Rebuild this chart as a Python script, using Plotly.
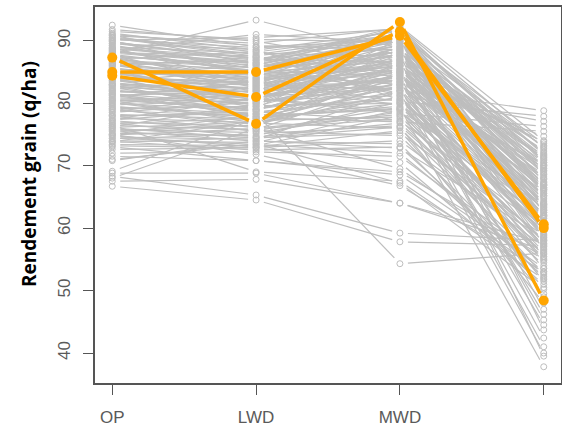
import math
import plotly.graph_objects as go

categories = ["OP", "LWD", "MWD", "HWD"]
y_ticks = [40, 50, 60, 70, 80, 90]
y_title = "Rendement grain (q/ha)"

# grey genotypes (one value per environment)
op = [91.2, 90.8, 90.5, 90.2, 89.9, 89.6, 89.3, 89.0, 88.7, 88.4,
      88.1, 87.8, 87.5, 87.2, 86.9, 86.6, 86.3, 86.0, 85.7, 85.4,
      85.1, 84.8, 84.5, 84.2, 83.9, 83.6, 83.3, 83.0, 82.7, 82.4,
      82.1, 81.8, 81.5, 81.2, 80.9, 80.6, 80.3, 80.0, 79.7, 79.4,
      79.1, 78.8, 78.5, 78.2, 77.9, 77.6, 77.3, 77.0, 76.7, 76.4,
      76.1, 75.8, 75.5, 75.2, 74.9, 74.6, 74.3, 74.0, 73.7, 73.4,
      90.9, 90.0, 89.5, 88.9, 88.2, 87.7, 87.0, 86.4, 85.9, 85.2,
      84.6, 84.0, 83.5, 82.9, 82.2, 81.6, 81.0, 80.4, 79.8, 79.2,
      78.6, 78.0, 77.4, 76.8, 76.2, 75.6, 75.0, 74.4, 73.8, 73.2,
      91.5, 91.0, 90.6, 89.8, 89.2, 88.6, 88.0, 87.4, 86.8, 86.1,
      85.5, 84.9, 84.3, 83.7, 83.1, 82.5, 81.9, 81.3, 80.7, 80.1,
      72.6, 72.0, 71.5, 70.8, 69.1, 68.8, 68.3, 67.5, 66.7, 68.0,
      76.5, 73.0, 75.0, 78.0, 71.0, 85.0, 83.0, 87.6, 80.5, 82.0,
      79.0, 86.2, 77.2, 81.4, 84.4, 76.0, 88.8, 86.5, 84.1, 88.3,
      82.8, 79.5, 90.4, 92.5, 87.9, 88.5, 91.8, 90.1, 74.8, 73.9]

lwd = [88.5, 89.6, 87.8, 88.9, 86.5, 87.2, 85.8, 88.0, 86.9, 84.9,
       87.6, 85.2, 86.1, 84.0, 85.7, 83.5, 86.8, 84.4, 82.8, 85.0,
       83.9, 82.2, 84.8, 81.6, 83.3, 82.9, 80.9, 82.5, 81.2, 83.7,
       80.4, 81.9, 79.8, 82.0, 80.0, 79.2, 81.4, 78.8, 80.6, 78.3,
       79.5, 77.9, 80.2, 77.4, 78.6, 76.9, 79.0, 76.3, 77.6, 75.8,
       77.0, 75.3, 76.5, 74.8, 75.9, 74.2, 75.1, 73.7, 74.5, 73.2,
       86.2, 84.6, 88.6, 83.0, 86.6, 82.4, 88.3, 81.8, 87.4, 80.8,
       86.0, 79.6, 85.4, 78.6, 84.2, 77.8, 83.6, 76.8, 82.6, 76.0,
       81.5, 75.5, 80.8, 74.6, 79.9, 73.9, 78.2, 73.4, 77.2, 72.8,
       90.2, 89.2, 88.2, 87.0, 85.5, 84.7, 86.4, 83.2, 85.1, 82.7,
       84.1, 81.0, 83.1, 80.5, 82.3, 79.4, 81.1, 78.0, 80.1, 77.2,
       72.9, 72.2, 70.8, 74.0, 77.5, 68.8, 65.3, 67.8, 64.5, 76.0,
       69.0, 70.8, 71.8, 78.3, 73.5, 83.8, 81.3, 85.6, 79.0, 80.3,
       76.6, 84.5, 75.6, 78.9, 82.1, 74.4, 87.3, 85.3, 83.4, 86.3,
       80.7, 77.7, 87.5, 89.0, 93.3, 91.0, 89.9, 90.5, 73.0, 72.5]

mwd = [91.5, 92.0, 90.8, 89.5, 91.0, 88.7, 90.2, 87.5, 91.8, 86.8,
       89.9, 88.2, 90.5, 85.9, 89.2, 87.9, 91.2, 86.4, 88.9, 90.0,
       84.8, 87.0, 89.6, 85.5, 88.4, 91.4, 84.2, 86.9, 89.0, 85.1,
       87.7, 83.8, 88.1, 86.2, 84.5, 90.3, 82.9, 86.0, 88.6, 83.2,
       85.6, 81.9, 87.3, 84.0, 80.8, 86.5, 82.4, 85.0, 79.5, 83.5,
       81.0, 78.6, 84.7, 80.2, 77.5, 82.0, 76.4, 79.0, 75.2, 78.0,
       85.0, 83.0, 80.5, 82.2, 92.3, 79.8, 84.0, 91.6, 81.5, 78.8,
       92.1, 80.0, 87.5, 77.2, 90.7, 79.2, 89.4, 76.0, 88.0, 78.2,
       87.0, 74.8, 86.0, 76.8, 85.2, 73.5, 83.9, 72.0, 82.8, 70.5,
       89.8, 88.5, 91.0, 86.6, 90.9, 85.8, 89.1, 84.6, 88.3, 83.4,
       87.2, 82.6, 86.3, 81.2, 85.4, 80.6, 84.4, 79.0, 83.0, 77.8,
       74.0, 71.5, 68.5, 72.8, 80.0, 64.0, 59.2, 64.0, 57.8, 69.5,
       67.5, 69.0, 66.8, 54.3, 67.2, 88.8, 86.7, 90.4, 84.3, 82.5,
       81.7, 87.8, 79.3, 85.3, 83.6, 76.2, 84.9, 82.0, 80.3, 81.3,
       78.4, 77.0, 83.3, 90.1, 87.6, 89.7, 86.1, 91.9, 75.6, 73.0]

hwd = [72.0, 70.5, 73.5, 68.0, 66.5, 71.2, 64.0, 69.5, 62.5, 67.3,
       73.0, 65.2, 70.0, 61.8, 68.8, 63.5, 71.8, 66.0, 59.5, 69.0,
       64.8, 72.5, 62.0, 67.8, 58.5, 70.8, 63.0, 66.8, 60.5, 68.5,
       57.5, 65.5, 71.0, 61.0, 64.2, 56.5, 67.0, 62.8, 69.8, 59.0,
       66.2, 55.5, 63.8, 68.2, 60.0, 65.0, 54.5, 62.2, 58.0, 66.5,
       53.5, 61.5, 57.0, 63.2, 52.5, 60.8, 56.0, 51.5, 58.8, 55.0,
       73.8, 65.8, 61.2, 70.2, 74.0, 57.8, 69.2, 67.5, 60.2, 63.8,
       72.8, 56.2, 73.2, 59.8, 66.2, 62.5, 71.5, 54.0, 64.5, 58.2,
       70.5, 52.0, 67.2, 55.8, 65.2, 50.5, 61.8, 53.0, 59.2, 51.0,
       67.0, 62.8, 69.3, 71.6, 65.6, 60.8, 72.2, 64.0, 68.0, 58.6,
       70.0, 61.6, 66.8, 56.8, 63.3, 59.4, 69.6, 55.2, 62.0, 57.4,
       57.0, 54.8, 52.8, 58.4, 60.0, 57.6, 58.0, 56.5, 57.2, 53.6,
       51.8, 55.4, 53.0, 56.0, 50.2, 47.0, 45.3, 43.7, 42.4, 41.0,
       40.0, 39.5, 37.8, 46.2, 44.5, 48.0, 49.0, 78.8, 77.9, 77.1,
       76.3, 75.5, 74.7, 68.6, 66.3, 63.6, 71.3, 60.4, 49.5, 52.2]

# highlighted genotypes (orange)
hl_op = [87.3, 85.0, 84.4]
hl_lwd = [76.7, 85.0, 81.0]
hl_mwd = [93.0, 90.8, 91.5]
hl_hwd = [48.4, 60.6, 60.0]

W, H = 562, 427
ML, MR, MT, MB = 95, 1, 7, 44
XR = [-0.12, 3.12]
YR = [35.2, 95.4]
XS = (W - ML - MR) / (XR[1] - XR[0])
YS = (H - MT - MB) / (YR[1] - YR[0])


def gapped(series, gap):
    xs, ys = [], []
    n = len(series[0])
    for k in range(n):
        vals = [s[k] for s in series]
        for i in range(len(vals) - 1):
            x0, x1 = i, i + 1
            y0, y1 = vals[i], vals[i + 1]
            L = math.hypot((x1 - x0) * XS, (y1 - y0) * YS)
            if L <= 2 * gap:
                continue
            f = gap / L
            xs += [x0 + f * (x1 - x0), x1 - f * (x1 - x0), None]
            ys += [y0 + f * (y1 - y0), y1 - f * (y1 - y0), None]
    return xs, ys


def points(series):
    xs, ys = [], []
    for i, s in enumerate(series):
        xs += [i] * len(s)
        ys += list(s)
    return xs, ys


grey = "#BEBEBE"
orange = "#FFA500"

fig = go.Figure()
gx, gy = gapped([op, lwd, mwd, hwd], 8)
fig.add_trace(go.Scatter(x=gx, y=gy, mode="lines",
                         line=dict(color=grey, width=1.2), hoverinfo="skip"))
px_, py_ = points([op, lwd, mwd, hwd])
fig.add_trace(go.Scatter(x=px_, y=py_, mode="markers",
                         marker=dict(symbol="circle-open", size=6, color=grey,
                                     line=dict(width=1))))
ox, oy = gapped([hl_op, hl_lwd, hl_mwd, hl_hwd], 8)
fig.add_trace(go.Scatter(x=ox, y=oy, mode="lines",
                         line=dict(color=orange, width=3.5), hoverinfo="skip"))
qx, qy = points([hl_op, hl_lwd, hl_mwd, hl_hwd])
fig.add_trace(go.Scatter(x=qx, y=qy, mode="markers",
                         marker=dict(symbol="circle", size=10, color=orange)))

tickfont = dict(family="Liberation Sans, Arial, sans-serif", size=17, color="#5a5a5a")
fig.update_layout(
    width=W, height=H,
    margin=dict(l=ML, r=MR, t=MT, b=MB, pad=0, autoexpand=False),
    paper_bgcolor="white", plot_bgcolor="white",
    showlegend=False,
    xaxis=dict(range=XR, tickvals=[0, 1, 2, 3], ticktext=categories,
               ticks="outside", ticklen=10, tickcolor="#555555", tickwidth=1.2,
               showline=True, mirror=True, linecolor="#555555", linewidth=1.5,
               showgrid=False, zeroline=False, tickfont=tickfont,
               ticklabelstandoff=8, automargin=False),
    yaxis=dict(range=YR, tickvals=y_ticks, tickangle=-90,
               ticks="outside", ticklen=10, tickcolor="#555555", tickwidth=1.2,
               showline=True, mirror=True, linecolor="#555555", linewidth=1.5,
               showgrid=False, zeroline=False, tickfont=tickfont,
               ticklabelstandoff=6, automargin=False),
    annotations=[dict(text=y_title, textangle=-90, showarrow=False,
                      xref="paper", yref="paper",
                      x=(29 - ML) / (W - ML - MR),
                      y=(H - MB - 174) / (H - MT - MB),
                      xanchor="center", yanchor="middle",
                      font=dict(family="Open Sans, sans-serif", size=19,
                                color="black", weight="bold"))],
)
fig.write_html("out.html", config={"displayModeBar": False},
               post_script="document.body.style.margin='0';")
